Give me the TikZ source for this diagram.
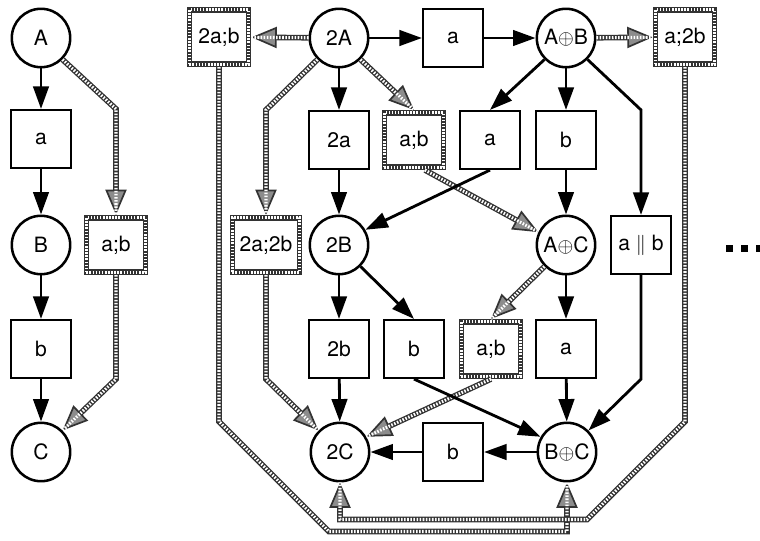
\documentclass[tikz,border=0pt]{standalone}
\usepackage{fontspec}
\setmainfont{TeX Gyre Heros}
\usetikzlibrary{arrows.meta}

\begin{document}
\begin{tikzpicture}
   [
   x=0.025cm, y=-0.025cm,
   font=\fontsize{15pt}{17pt}\selectfont,
   stateball/.style={circle, draw=black, fill=white, line width=1.8pt, minimum size=1.46cm, inner sep=0pt},
   actbox/.style={rectangle, draw=black, fill=white, line width=1.8pt, minimum width=1.49cm, minimum height=1.44cm},
   seqbox/.style={rectangle, draw=black!80, fill=white, line width=4pt, minimum width=1.48cm, minimum height=1.36cm,
                  postaction={draw=white, line width=2.2pt, dash pattern=on 1.1pt off 1.1pt}},
   flow/.style={line width=2pt, -{Triangle[length=16pt,width=11pt]}},
   seqflow/.style={draw=black!80, line width=4pt, -{Triangle[length=18pt,width=15pt,fill=black!45,line width=1.2pt]},
                  postaction={draw=white, line width=2.2pt, dash pattern=on 1.1pt off 1.1pt, -}},
   ]
 \useasboundingbox (0,0) rectangle (760,540);
 % left run
 \node at (41,38) [stateball] (A) {A};
 \node at (41,139) [actbox] (la) {a};
 \node at (41,245) [stateball] (B) {B};
 \node at (41,349) [actbox] (lb) {b};
 \node at (41,452) [stateball] (C) {C};
 \node at (116,245) [seqbox] (lab) {a;b};
 % doubled run
 \node at (339,38) [stateball] (A2) {2A};
 \node at (219,37) [seqbox] (s2ab) {2a;b};
 \node at (453,38) [actbox] (ta) {a};
 \node at (566,38) [stateball] (AB) {A${\oplus}$B};
 \node at (685,37) [seqbox] (sa2b) {a;2b};
 \node at (339,140) [actbox] (b2a) {2a};
 \node at (414,140) [seqbox] (sab1) {a;b};
 \node at (490,140) [actbox] (ba1) {a};
 \node at (566,140) [actbox] (bb1) {b};
 \node at (266,245) [seqbox, minimum width=1.68cm] (s2a2b) {2a;2b};
 \node at (339,245) [stateball] (B2) {2B};
 \node at (566,245) [stateball] (AC) {A${\oplus}$C};
 \node at (641,245) [actbox] (bpar) {a $\|$ b};
 \node at (339,349) [actbox] (b2b) {2b};
 \node at (414,349) [actbox] (bb2) {b};
 \node at (491,349) [seqbox] (sab2) {a;b};
 \node at (566,349) [actbox] (ba2) {a};
 \node at (340,452) [stateball] (C2) {2C};
 \node at (453,452) [actbox] (bb3) {b};
 \node at (567,452) [stateball] (BC) {B${\oplus}$C};
 \foreach \x in {729,744,759}
   \fill (\x-3.5,245) rectangle ++(7,7);

 % sequenced steps
 \draw[seqflow] (A.-45) -- (lab.north |- la.north) -- (lab.north);
 \draw[seqflow] (lab.south) -- (lab.south |- lb.south) -- (C.45);
 \draw[seqflow] (A2) -- (s2ab);
 \draw[seqflow] (AB) -- (sa2b);
 \draw[seqflow] (A2.-45) -- (sab1.north);
 \draw[seqflow] (A2.-135) -- (s2a2b.north |- b2a.north) -- (s2a2b.north);
 \draw[seqflow] (sab1.-70) -- (AC.155);
 \draw[seqflow] (s2a2b.south) -- (s2a2b.south |- b2b.south) -- (C2.135);
 \draw[seqflow] (AC.-135) -- (sab2.north);
 \draw[seqflow] (sab2.south) -- (C2.30);
 \draw[seqflow] (s2ab.south) -- (s2ab.south |- C2.north) -- ++(110,110) -| (BC.south);
 \draw[seqflow] (sa2b.south) -- (sa2b.south |- BC.north) -- ++(-98,98) -| (C2.south);

 % single steps
 \draw[flow] (A) -- (la);
 \draw[flow] (la) -- (B);
 \draw[flow] (B) -- (lb);
 \draw[flow] (lb) -- (C);
 \draw[flow] (A2) -- (ta);
 \draw[flow] (ta) -- (AB);
 \draw[flow] (A2) -- (b2a);
 \draw[flow] (b2a) -- (B2);
 \draw[flow] (AB.-135) -- (ba1.north);
 \draw[flow] (AB) -- (bb1);
 \draw[flow] (bb1) -- (AC);
 \draw[flow] (AB.-45) -- (bpar.north |- bb1.north) -- (bpar.north);
 \draw[flow] (ba1.south) -- (B2.30);
 \draw[flow] (B2) -- (b2b);
 \draw[flow] (b2b) -- (C2);
 \draw[flow] (B2.-45) -- (bb2.north);
 \draw[flow] (AC) -- (ba2);
 \draw[flow] (ba2) -- (BC);
 \draw[flow] (bpar.south) -- (bpar.south |- ba2.south) -- (BC.45);
 \draw[flow] (bb2.south) -- (BC.150);
 \draw[flow] (BC) -- (bb3);
 \draw[flow] (bb3) -- (C2);
\end{tikzpicture}
\end{document}
